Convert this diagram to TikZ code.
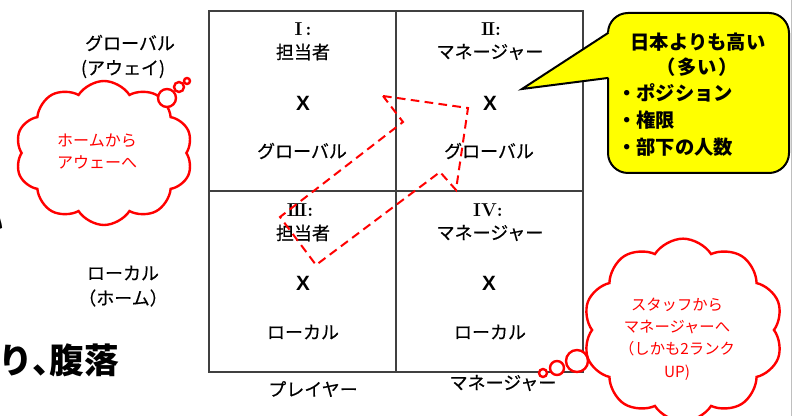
\documentclass[tikz,border=0pt]{standalone}
\usepackage{fontspec}
\usetikzlibrary{shapes.symbols}
\newfontfamily\jp{Noto Sans CJK JP}
\newfontfamily\jpm[FakeBold=0.4]{Noto Sans CJK JP}
\newfontfamily\arial{Liberation Sans}
\definecolor{gridc}{HTML}{404040}
\definecolor{bubbley}{HTML}{FFFF00}
\tikzset{
  lab/.style={font=\jpm\fontsize{13.5}{16}\selectfont, inner sep=0pt},
  xmark/.style={font=\arial\bfseries\fontsize{15.5}{18}\selectfont, inner sep=0pt},
  num/.style={font=\rmfamily\bfseries\fontsize{14}{16}\selectfont, inner sep=0pt},
  gridline/.style={draw=gridc, line width=0.9pt},
  redcloud/.style={cloud, cloud puffs=10, cloud puff arc=115, cloud ignores aspect, draw=red, line width=1.8pt, fill=white, inner sep=0pt},
  cloudtext/.style={text=red, align=center, inner sep=0pt},
  thought/.style={circle, draw=red, line width=1.8pt, fill=white, inner sep=0pt},
  bub/.style={font=\jp\bfseries\fontsize{14.5}{20.6}\selectfont, inner sep=0pt},
  bigtext/.style={font=\jp\bfseries\fontsize{26}{30}\selectfont, inner sep=0pt},
  redarrow/.style={draw=red, line width=1.5pt, dash pattern=on 6.5pt off 4pt, line join=miter},
}
\begin{document}
\begin{tikzpicture}[x=0.75pt,y=-0.75pt]
\useasboundingbox (0,0) rectangle (796,416);
\fill[white] (0,0) rectangle (796,416);
% slide edge
\draw[black!25, line width=0.75pt] (791,0) -- (791,416);

% grid
\draw[gridline] (209,11) rectangle (583,372);
\draw[gridline] (396,11) -- (396,372);
\draw[gridline] (209,191) -- (583,191);

% cell I
\node[num] (n1) at (303,29) {I\,:};
\node[lab] (c1a) at (303,52) {担当者};
\node[xmark] (x1) at (303,103) {X};
\node[lab] (c1b) at (302,151) {グローバル};
% cell II
\node[num] (n2) at (491,29) {I\kern-0.08em I:};
\node[lab] (c2a) at (490,52) {マネージャー};
\node[xmark] (x2) at (490,103) {X};
\node[lab] (c2b) at (489,151) {グローバル};
% cell III
\node[num] (n3) at (300,210) {I\kern-0.08em I\kern-0.08em I:};
\node[lab] (c3a) at (303,233) {担当者};
\node[xmark] (x3) at (303,283) {X};
\node[lab] (c3b) at (303,332) {ローカル};
% cell IV
\node[num] (n4) at (488,210) {IV:};
\node[lab] (c4a) at (490,233) {マネージャー};
\node[xmark] (x4) at (489,283) {X};
\node[lab] (c4b) at (490,332) {ローカル};

% axis labels
\node[lab] (g1) at (130,43) {グローバル};
\node[lab] (g2) at (123,69) {(アウェイ)};
\node[lab] (l1) at (123,273) {ローカル};
\node[lab] (l2) at (123,298) {（ホーム）};
\node[lab] (p1) at (313,389) {プレイヤー};
\node[lab] (p2) at (503,383) {マネージャー};

% slide text fragments
\node[bigtext, anchor=east] (f0) at (4,222) {い};
\node[bigtext, anchor=east] (f1) at (119,360) {かり、\kern-0.5em 腹落};

% dashed arrow
\draw[redarrow] (383,96) -- (468,108) -- (456,190) -- (440,172) -- (316,265) -- (280,217) -- (403,122) -- cycle;

% speech bubble
\node[draw=black, line width=1.5pt, fill=bubbley, rounded corners=15pt,
      minimum width=135.75pt, minimum height=120pt, inner sep=0pt] (bubble) at (698.5,93) {};
\fill[bubbley] (522,89) -- (611,31) -- (611,77.6) -- cycle;
\draw[black, line width=1.5pt, line join=miter] (608.5,32.7) -- (522,89) -- (608.5,77.9);
\node[bub] (b1) at (698,42) {日本よりも高い};
\node[bub] (b2) at (697,67) {（\kern0.1em 多い\kern0.1em ）};
\node[bub, anchor=west, align=left] (b3) at (617,120) {・ポジション\\・権限\\・部下の人数};

% left cloud
\node[redcloud, minimum width=133pt, minimum height=108pt] (cl1) at (104,153) {};
\node[cloudtext, font=\jp\fontsize{12}{16.5}\selectfont] (t1) at (97,151) {ホームから\\アウェーへ};
\node[thought, minimum size=13.5pt] (o1) at (167,98) {};
\node[thought, minimum size=7.5pt] (o2) at (179,87) {};
\node[thought, minimum size=4.5pt] (o3) at (187,81) {};

% right cloud
\node[redcloud, minimum width=150pt, minimum height=137pt] (cl2) at (683,330) {};
\node[cloudtext, font=\jp\fontsize{11.5}{16.7}\selectfont] (t2) at (677,339) {スタッフから\\マネージャーへ\\（しかも2ランク\\UP)};
\node[thought, minimum size=16.5pt] (o4) at (577,361) {};
\node[thought, minimum size=10.5pt] (o5) at (557,368) {};
\node[thought, minimum size=6pt] (o6) at (543,373) {};
\end{tikzpicture}
\end{document}
